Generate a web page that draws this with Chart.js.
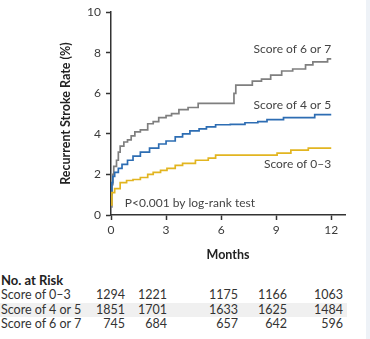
<!DOCTYPE html>
<html>
<head>
<meta charset="utf-8">
<script src="https://cdn.jsdelivr.net/npm/chart.js@4"></script>
<style>
  html, body { margin: 0; padding: 0; background: #fff; }
  body { width: 370px; height: 339px; position: relative; overflow: hidden; font-family: Lato, "Open Sans", sans-serif; }
  #side { position: absolute; left: 366px; top: 0; width: 4px; height: 339px; background: #eef2f7; }
  #wrap { position: absolute; left: 0; top: 0; width: 370px; height: 265px; }
  #risk { position: absolute; left: 0; top: 271px; width: 366px; color: #333; font-size: 12.5px; }
  #risk .head { position: absolute; left: 1px; top: 1px; font-weight: bold; font-size: 13px; color: #222; }
  #risk .row { position: absolute; left: 0; width: 347px; height: 14px; line-height: 14px; }
  #risk .row.band { background: #f0f0f0; }
  #risk .row span { position: absolute; top: 0; }
</style>
</head>
<body>
<div id="wrap"><canvas id="kmChart" width="370" height="265"></canvas></div>
<div id="risk"></div>
<div id="side"></div>
<script>
/* ── Data ──────────────────────────────────────────────────────── */
const monthTicks = [0, 3, 6, 9, 12];
const groupNames = ["Score of 0–3", "Score of 4 or 5", "Score of 6 or 7"];

// cumulative recurrent stroke rate (%) — event times in months
const lowT     = [0, 0.05, 0.2, 0.5, 0.85, 1.2, 1.6, 2.0, 2.3, 2.7, 3.05, 3.5, 3.9, 4.6, 5.3, 5.7, 9.05, 9.8, 10.75, 12];
const lowRate  = [0.5, 1.1, 1.3, 1.6, 1.7, 1.75, 1.85, 2.0, 2.1, 2.2, 2.3, 2.45, 2.55, 2.7, 2.8, 2.95, 3.05, 3.2, 3.3, 3.3];

const midT     = [0, 0.05, 0.1, 0.2, 0.4, 0.6, 0.9, 1.2, 1.6, 2.1, 2.6, 3.0, 3.5, 3.9, 4.3, 4.8, 5.2, 5.7, 6.5, 7.3, 8.0, 8.5, 9.4, 11.1, 12];
const midRate  = [1.0, 1.6, 1.9, 2.1, 2.3, 2.5, 2.7, 2.9, 3.1, 3.3, 3.5, 3.65, 3.85, 4.0, 4.15, 4.25, 4.35, 4.45, 4.47, 4.55, 4.6, 4.7, 4.8, 4.95, 4.95];

const highT    = [0, 0.05, 0.1, 0.15, 0.3, 0.4, 0.5, 0.7, 0.9, 1.1, 1.3, 1.6, 2.0, 2.3, 2.6, 3.0, 3.3, 3.7, 4.2, 4.75, 6.7, 6.8, 7.7, 8.2, 8.7, 9.3, 9.9, 10.6, 11.0, 11.8, 12];
const highRate = [0.4, 1.5, 2.0, 2.4, 2.7, 3.1, 3.4, 3.6, 3.7, 3.9, 4.1, 4.2, 4.5, 4.6, 4.8, 4.9, 5.0, 5.2, 5.3, 5.5, 6.0, 6.4, 6.6, 6.7, 6.9, 7.1, 7.2, 7.4, 7.55, 7.7, 7.7];

const atRiskLow  = [1294, 1221, 1175, 1166, 1063];
const atRiskMid  = [1851, 1701, 1633, 1625, 1484];
const atRiskHigh = [745, 684, 657, 642, 596];

const lineColors = ["#e2b520", "#2d6db3", "#7f7f7f"];
const labelRates = [2.5, 5.4, 8.2];   // vertical placement of the curve labels

/* ── Helpers ───────────────────────────────────────────────────── */
function toPoints(ts, ys) {
    return ts.map((t, i) => ({ x: t, y: ys[i] }));
}

const curveLabels = {
    id: "curveLabels",
    afterDatasetsDraw(chart) {
        const { ctx, scales: { x, y } } = chart;
        ctx.save();
        ctx.font = "12px Lato, 'Open Sans', sans-serif";
        ctx.fillStyle = "#444";
        ctx.textBaseline = "middle";
        ctx.textAlign = "right";
        groupNames.forEach((name, i) => {
            ctx.fillText(name, x.getPixelForValue(12), y.getPixelForValue(labelRates[i]));
        });
        ctx.textAlign = "left";
        ctx.fillText("P<0.001 by log-rank test", x.getPixelForValue(0.75), y.getPixelForValue(0.6));
        ctx.restore();
    }
};

/* ── Chart ─────────────────────────────────────────────────────── */
const axisFont = { family: "Lato, 'Open Sans', sans-serif", size: 12 };

new Chart(document.getElementById("kmChart"), {
    type: "line",
    data: {
        datasets: [
            { label: groupNames[0], data: toPoints(lowT, lowRate),   borderColor: lineColors[0] },
            { label: groupNames[1], data: toPoints(midT, midRate),   borderColor: lineColors[1] },
            { label: groupNames[2], data: toPoints(highT, highRate), borderColor: lineColors[2] }
        ]
    },
    options: {
        responsive: false,
        animation: false,
        layout: { padding: { left: 0, right: 25, top: 10, bottom: 0 } },
        elements: {
            line: { stepped: true, borderWidth: 1.7, tension: 0, fill: false },
            point: { radius: 0 }
        },
        plugins: { legend: { display: false }, tooltip: { enabled: false } },
        scales: {
            x: {
                type: "linear",
                min: 0,
                max: 12.75,
                afterBuildTicks: s => { s.ticks = monthTicks.map(v => ({ value: v })); },
                afterFit: s => { s.height = 50; },
                border: { color: "#333", width: 1.5 },
                grid: { drawOnChartArea: false, tickLength: 5, tickColor: "#333", tickWidth: 1.5 },
                ticks: { font: axisFont, color: "#3a3a3a", padding: 3, maxRotation: 0 },
                title: {
                    display: true, text: "Months", color: "#222",
                    font: { ...axisFont, size: 12.5, weight: "bold" },
                    padding: { top: 0, bottom: 3 }
                }
            },
            y: {
                min: 0,
                max: 10,
                afterFit: s => { s.width = 111; },
                border: { color: "#333", width: 1.5 },
                grid: { drawOnChartArea: false, tickLength: 5, tickColor: "#333", tickWidth: 1.5 },
                ticks: { stepSize: 2, font: axisFont, color: "#3a3a3a", padding: 5 },
                title: {
                    display: true, text: "Recurrent Stroke Rate (%)", color: "#222",
                    font: { ...axisFont, size: 12.5, weight: "bold" },
                    padding: { top: 58, bottom: 0 }
                }
            }
        }
    },
    plugins: [curveLabels]
});

/* ── No. at risk table ─────────────────────────────────────────── */
function buildRiskTable() {
    const box = document.getElementById("risk");
    const rightEdges = [125, 167, 238, 287, 343];
    const rows = [atRiskLow, atRiskMid, atRiskHigh];

    const head = document.createElement("div");
    head.className = "head";
    head.textContent = "No. at Risk";
    box.appendChild(head);

    rows.forEach((vals, r) => {
        const row = document.createElement("div");
        row.className = "row" + (r === 1 ? " band" : "");
        row.style.top = (17 + r * 14.5) + "px";
        let html = `<span style="left:1px">${groupNames[r]}</span>`;
        vals.forEach((v, c) => {
            html += `<span style="right:${347 - rightEdges[c]}px">${v}</span>`;
        });
        row.innerHTML = html;
        box.appendChild(row);
    });
}

buildRiskTable();
</script>
</body>
</html>
